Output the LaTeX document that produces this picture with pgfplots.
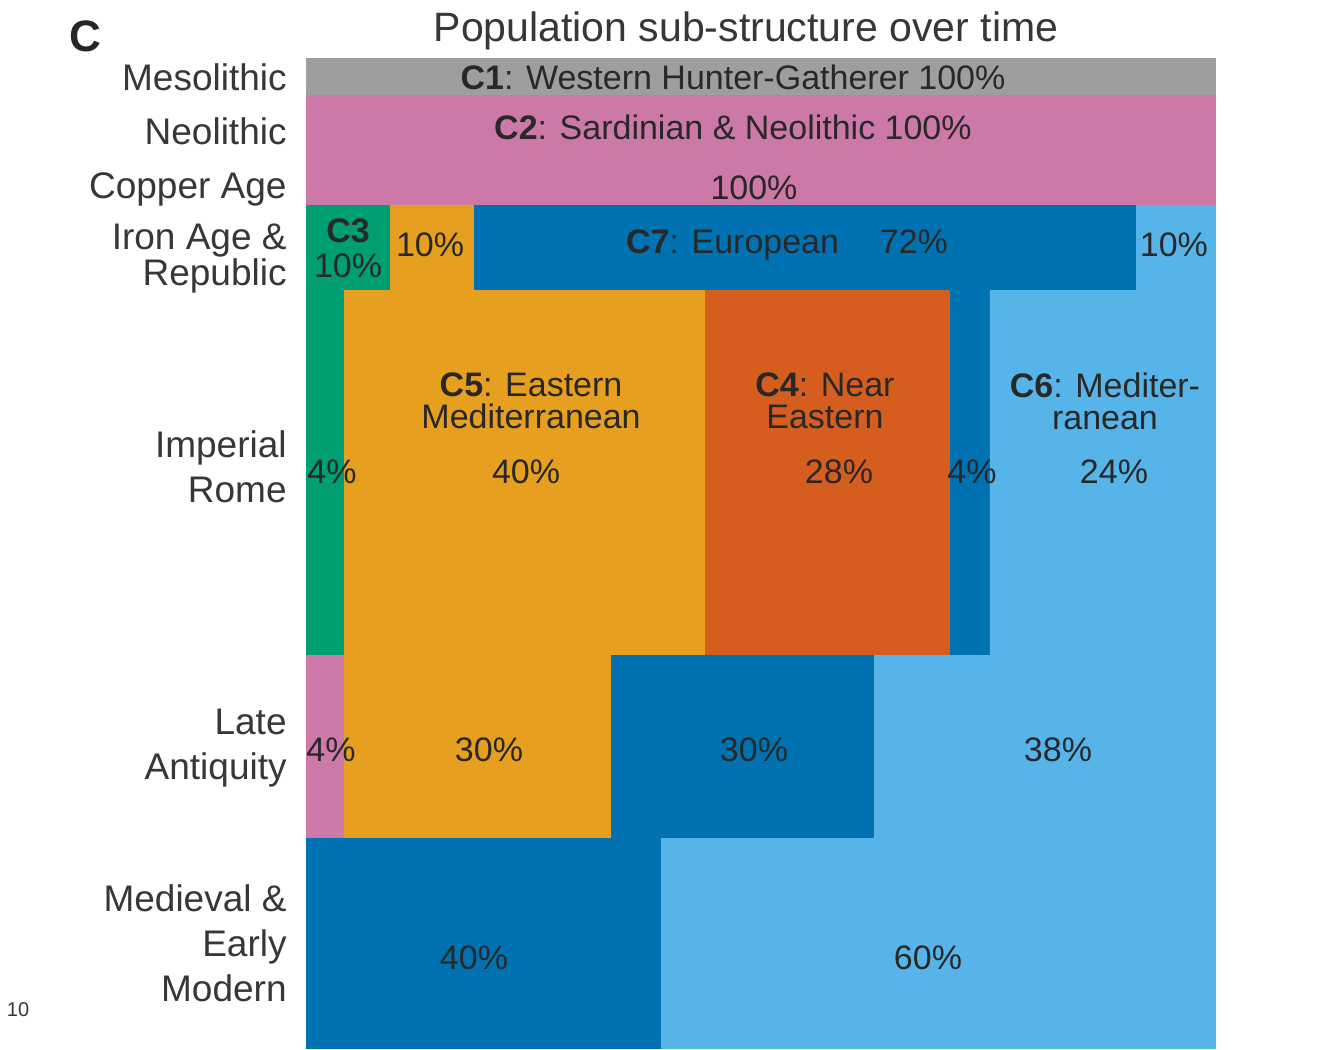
\documentclass[border=0pt]{standalone}
\usepackage{pgfplots}
\pgfplotsset{compat=1.18}
\usepackage{fontspec}
\setmainfont{Liberation Sans}
\definecolor{cgray}{RGB}{158,158,158}
\definecolor{cpink}{RGB}{204,121,167}
\definecolor{cgreen}{RGB}{0,158,115}
\definecolor{corange}{RGB}{230,159,30}
\definecolor{cverm}{RGB}{213,94,30}
\definecolor{cblue}{RGB}{0,114,178}
\definecolor{csky}{RGB}{86,180,233}
\definecolor{labtxt}{RGB}{55,55,55}
\definecolor{intxt}{RGB}{40,40,40}
\begin{document}
\begin{tikzpicture}
\begin{axis}[width=670.5pt,height=524.5pt,scale only axis,
  xmin=-33.63,xmax=113.74,ymin=0,ymax=1049,y dir=reverse,
  hide axis,clip=false]
\addplot[draw=none,fill=white] coordinates {(-33.63,0) (113.74,0) (113.74,1049) (-33.63,1049)} -- cycle;
% Mesolithic
\addplot[draw=none,fill=cgray] coordinates {(0,58) (100,58) (100,95) (0,95)} -- cycle;
% Neolithic + Copper Age
\addplot[draw=none,fill=cpink] coordinates {(0,95) (100,95) (100,205) (0,205)} -- cycle;
% Iron Age & Republic
\addplot[draw=none,fill=cgreen] coordinates {(0,205) (9.23,205) (9.23,290) (4.18,290) (4.18,655) (0,655)} -- cycle;
\addplot[draw=none,fill=corange] coordinates {(9.23,205) (18.46,205) (18.46,290) (9.23,290)} -- cycle;
\addplot[draw=none,fill=cblue] coordinates {(18.46,205) (91.21,205) (91.21,290) (75.16,290) (75.16,655) (70.77,655) (70.77,290) (18.46,290)} -- cycle;
\addplot[draw=none,fill=csky] coordinates {(91.21,205) (100,205) (100,655) (75.16,655) (75.16,290) (91.21,290)} -- cycle;
% Imperial Rome
\addplot[draw=none,fill=corange] coordinates {(4.18,290) (43.85,290) (43.85,655) (4.18,655)} -- cycle;
\addplot[draw=none,fill=cverm] coordinates {(43.85,290) (70.77,290) (70.77,655) (43.85,655)} -- cycle;
% Late Antiquity
\addplot[draw=none,fill=cpink] coordinates {(0,655) (4.18,655) (4.18,838) (0,838)} -- cycle;
\addplot[draw=none,fill=corange] coordinates {(4.18,655) (33.52,655) (33.52,838) (4.18,838)} -- cycle;
\addplot[draw=none,fill=cblue] coordinates {(33.52,655) (62.42,655) (62.42,838) (33.52,838)} -- cycle;
\addplot[draw=none,fill=csky] coordinates {(62.42,655) (100,655) (100,838) (62.42,838)} -- cycle;
% Medieval & Early Modern
\addplot[draw=none,fill=cblue] coordinates {(0,838) (39.01,838) (39.01,1049) (0,1049)} -- cycle;
\addplot[draw=none,fill=csky] coordinates {(39.01,838) (100,838) (100,1049) (39.01,1049)} -- cycle;

% panel letter and title
\node[font=\fontsize{22}{24}\selectfont\bfseries,text=black!85] at (axis cs:-24.29,36) {C};
\node[font=\fontsize{20.5}{24}\selectfont,text=labtxt] at (axis cs:48.35,31) {Population sub-structure over time};
\node[font=\fontsize{10}{12}\selectfont,text=labtxt] at (axis cs:-31.65,1010) {10};

% row labels
\begin{scope}[every node/.style={anchor=east,align=right,inner xsep=0pt,text=labtxt,font=\fontsize{18.5}{22.5}\selectfont}]
\node at (axis cs:-2.09,77) {Mesolithic};
\node at (axis cs:-2.09,131) {Neolithic};
\node at (axis cs:-2.09,189) {Copper Age};
\node[font=\fontsize{18.5}{18}\selectfont] at (axis cs:-2.09,259) {Iron Age \&\\Republic};
\node at (axis cs:-2.09,467) {Imperial\\Rome};
\node at (axis cs:-2.09,748) {Late\\Antiquity};
\node at (axis cs:-2.09,943) {Medieval \&\\Early\\Modern};
\end{scope}

% inner labels
\begin{scope}[every node/.style={align=center,text=intxt,font=\fontsize{17}{16}\selectfont}]
\node at (axis cs:46.92,77) {\textbf{C1}: Western Hunter-Gatherer 100\%};
\node at (axis cs:46.92,127) {\textbf{C2}: Sardinian \& Neolithic 100\%};
\node at (axis cs:49.23,188) {100\%};
\node[font=\fontsize{17}{17.5}\selectfont] at (axis cs:4.62,248) {\textbf{C3}\\10\%};
\node at (axis cs:13.63,245) {10\%};
\node at (axis cs:52.86,245) {\textbf{C7}: European\hspace{1.2em}72\%};
\node at (axis cs:95.38,245) {10\%};
\node at (axis cs:24.73,401) {\textbf{C5}: Eastern\\Mediterranean};
\node at (axis cs:24.18,472) {40\%};
\node at (axis cs:2.86,472) {4\%};
\node at (axis cs:57.03,401) {\textbf{C4}: Near\\Eastern};
\node at (axis cs:58.57,472) {28\%};
\node at (axis cs:73.19,472) {4\%};
\node at (axis cs:87.80,401) {\textbf{C6}: Mediter-\\ranean};
\node at (axis cs:88.79,472) {24\%};
\node at (axis cs:2.75,750) {4\%};
\node at (axis cs:20.11,750) {30\%};
\node at (axis cs:49.23,750) {30\%};
\node at (axis cs:82.64,750) {38\%};
\node at (axis cs:18.46,958) {40\%};
\node at (axis cs:68.35,958) {60\%};
\end{scope}
\end{axis}
\end{tikzpicture}
\end{document}
